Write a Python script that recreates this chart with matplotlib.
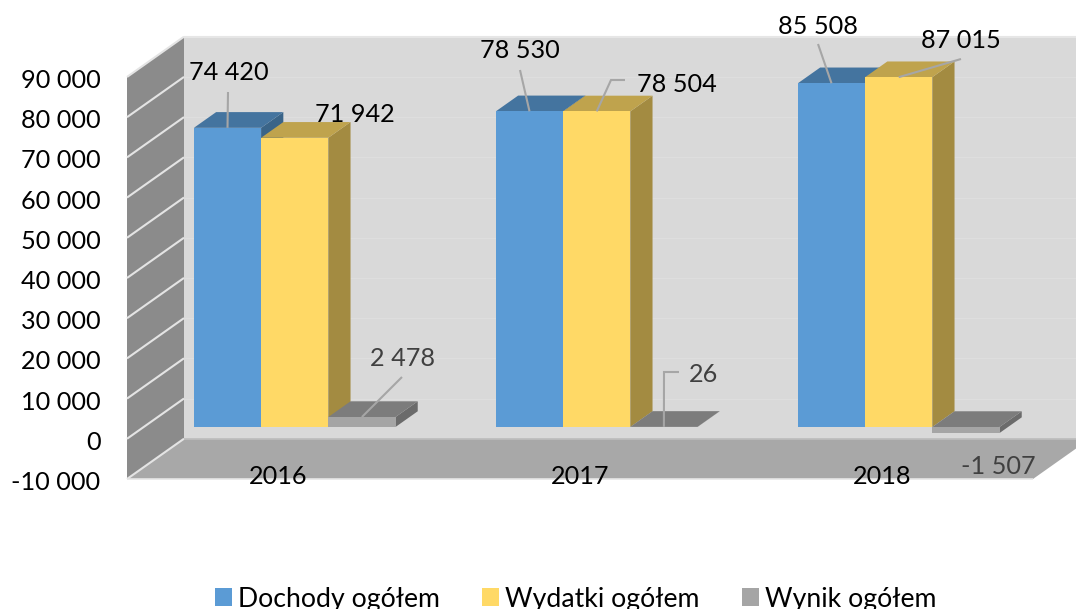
import matplotlib
matplotlib.use("Agg")
import matplotlib.pyplot as plt
from matplotlib.patches import Polygon, Patch
from matplotlib.transforms import ScaledTranslation

years = ["2016", "2017", "2018"]
dochody = [74420, 78530, 85508]
wydatki = [71942, 78504, 87015]
wynik = [2478, 26, -1507]
series_names = ["Dochody ogółem", "Wydatki ogółem", "Wynik ogółem"]
y_ticks = list(range(-10000, 100000, 10000))

W, H = 1076, 609
L, R, T, B = 127, 1033, 77, 479
plt.rcParams["font.family"] = ["Lato", "DejaVu Sans"]
fig = plt.figure(figsize=(W / 100, H / 100), dpi=100, facecolor="white")
ax = fig.add_axes([L / W, (H - B) / H, (R - L) / W, (B - T) / H])
ax.set_xlim(0, 3)
ax.set_ylim(-10000, 90000)
for s in ax.spines.values():
    s.set_visible(False)
ax.patch.set_visible(False)

UX = (R - L) / 3
UY = (B - T) / 100000
DX, DY = 57 / UX, 40.3 / UY


def P(x, v, t=0.0):
    return (x + DX * t, v + DY * t)


def poly(pts, fc, ec="none", lw=0, z=1):
    ax.add_patch(Polygon(pts, closed=True, facecolor=fc, edgecolor=ec, linewidth=lw, clip_on=False, zorder=z))


def line(pts, color, lw, z=2):
    ax.plot([p[0] for p in pts], [p[1] for p in pts], color=color, lw=lw, clip_on=False, zorder=z, solid_capstyle="butt", solid_joinstyle="miter")


# walls and floor
vmin, vmax = -10000, 90000
poly([P(0, vmin, 1), P(3, vmin, 1), P(3, vmax, 1), P(0, vmax, 1)], "#D9D9D9")
poly([P(0, vmin, 0), P(0, vmin, 1), P(0, vmax, 1), P(0, vmax, 0)], "#8B8B8B")
poly([P(0, vmin, 0), P(3, vmin, 0), P(3, vmin, 1), P(0, vmin, 1)], "#A8A8A8")
for v in y_ticks:
    line([P(0, v, 0), P(0, v, 1)], "#E4E4E4", 1.5)
    if v > vmin:
        line([P(0, v, 1), P(3, v, 1)], "#DEDEDE", 0.9)
line([P(0, vmin, 1), P(3, vmin, 1)], "#BEBEBE", 1.2)
line([P(0, vmax, 1), P(3, vmax, 1)], "#E6E6E6", 1.5)
line([P(0, vmin, 0), P(3, vmin, 0)], "#E6E6E6", 1.2)

# bars
T0, T1 = 0.293, 0.683
BW = 67.2 / UX
styles = [("#5B9BD5", "#44749F", "#3A6488"),
          ("#FFD966", "#BFA34D", "#A38B41"),
          ("#A5A5A5", "#7C7C7C", "#6B6B6B")]
values = [dochody, wydatki, wynik]


def bar_front_x(i, s):
    return i + 0.5 + (s - 1.5) * BW


z = 3
for i in range(3):
    for s, vals in enumerate(values):
        v = vals[i]
        x0 = bar_front_x(i, s)
        x1 = x0 + BW
        top = max(v, 0)
        bot = min(v, 0)
        front, upper, side = styles[s]
        poly([P(x1, bot, T0), P(x1, bot, T1), P(x1, top, T1), P(x1, top, T0)], side, z=z)
        poly([P(x0, top, T0), P(x1, top, T0), P(x1, top, T1), P(x0, top, T1)], upper, z=z)
        poly([P(x0, bot, T0), P(x1, bot, T0), P(x1, top, T0), P(x0, top, T0)], front, z=z)
        z += 1


def px(x, y):
    return ((x - L) / UX, vmin + (B - y) / UY)


# data labels: centre in pixels, leader path (pixels) ending at the bar
layout = [
    [((229, 73), [(228, 92)], 0.5), ((355, 114), None, 0), ((402, 359), [(402, 377)], 0.5)],
    [((520, 51), [(520, 70)], 0.5), ((677, 85), [(625, 80), (611, 80)], 0.5), ((704, 375), [(679, 372), (664, 372)], 0.5)],
    [((818, 26), [(818, 44)], 0.5), ((961, 40), [(961, 59)], 0.5), ((998, 466), None, 0)],
]
lab_colors = ["#000000", "#000000", "#404040"]
FS = 18.2
for i in range(3):
    for s, vals in enumerate(values):
        v = vals[i]
        (cx, cy), path, frac = layout[i][s]
        txt = f"{v:,}".replace(",", " ")
        lx, ly = px(cx, cy)
        ax.text(lx, ly, txt, ha="center", va="center", fontsize=FS, color=lab_colors[s], clip_on=False, zorder=40)
        if path:
            x_end = bar_front_x(i, s) + BW * frac
            end = P(x_end, max(v, 0), T0)
            pts = [px(*p) for p in path] + [end]
            line(pts, "#A6A6A6", 1.5, z=30)

# axes text
ax.set_yticks(y_ticks)
ax.set_yticklabels([f"{v:,}".replace(",", " ") for v in y_ticks], fontsize=FS, color="black")
ax.set_xticks([i + 0.5 for i in range(3)])
ax.set_xticklabels(years, fontsize=FS, color="black")
ax.tick_params(axis="y", length=0, pad=19)
ax.tick_params(axis="x", length=0, pad=-10)
shift = ScaledTranslation(0, -1.5 / 100, fig.dpi_scale_trans)
for t in ax.get_yticklabels():
    t.set_transform(t.get_transform() + shift)
for axis in (ax.xaxis, ax.yaxis):
    axis.set_zorder(50)

handles = [Patch(facecolor=styles[k][0], label=series_names[k]) for k in range(3)]
leg = fig.legend(handles=handles, loc="center", bbox_to_anchor=(575.5 / W, 1 - 599 / H), ncol=3,
                 frameon=False, fontsize=19.2, handlelength=0.64, handleheight=0.64,
                 handletextpad=0.22, columnspacing=1.6, borderpad=0, borderaxespad=0)

fig.savefig("out.png", dpi=100)
